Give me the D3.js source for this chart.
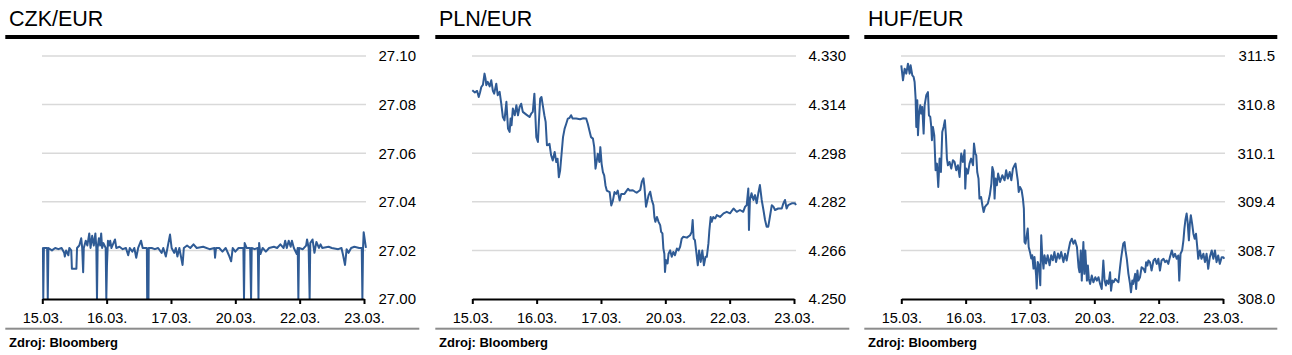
<!DOCTYPE html>
<html><head><meta charset="utf-8">
<script src="https://cdn.jsdelivr.net/npm/d3@7"></script>
<style>
html,body{margin:0;padding:0;background:#fff;}
svg{display:block;font-family:"Liberation Sans",Arial,sans-serif;}
</style></head>
<body>
<svg id="c" width="1292" height="355"></svg>
<script>
// ---- data: x = position along the time axis in % (0 = 15.03., 100 = 23.03.), y = rate ----
const xTickLabels = ["15.03.","16.03.","17.03.","20.03.","22.03.","23.03."];
const xTickPos = [0,20,40,60,80,100];

const czkTicks = [27.00,27.02,27.04,27.06,27.08,27.10];
const plnTicks = [4.250,4.266,4.282,4.298,4.314,4.330];
const hufTicks = [308.0,308.7,309.4,310.1,310.8,311.5];

const czkData = [[0,27.021],[0.2,27.021],[0.3,27.000],[0.5,27.021],[1.5,27.021],[1.7,27.000],[1.9,27.021],[3,27.020],[4,27.021],[5,27.0205],[6,27.021],[6.8,27.019],[7.0,27.0175],[7.4,27.020],[8.1,27.018],[8.4,27.021],[9.0,27.020],[9.2,27.0125],[10.6,27.0125],[10.8,27.021],[11.5,27.022],[12.1,27.025],[12.4,27.021],[12.7,27.011],[12.9,27.021],[13.5,27.024],[14.0,27.022],[14.6,27.027],[15.0,27.021],[15.5,27.026],[16.0,27.022],[16.5,27.027],[16.8,27.021],[17.0,27.000],[17.2,27.021],[17.6,27.025],[18.0,27.022],[18.3,27.027],[18.6,27.021],[19.0,27.023],[19.7,27.021],[19.9,27.000],[20.1,27.014],[20.4,27.024],[20.8,27.022],[21.1,27.024],[21.5,27.021],[22.6,27.0245],[23,27.021],[24,27.0215],[25,27.0205],[26,27.021],[26.7,27.018],[27.2,27.021],[28,27.0195],[28.6,27.021],[29.2,27.017],[29.8,27.021],[30.7,27.024],[31.2,27.021],[32.5,27.021],[32.6,27.000],[33.0,27.000],[33.1,27.021],[34,27.021],[35,27.0205],[36,27.021],[37.1,27.019],[37.6,27.021],[38.4,27.0175],[38.9,27.021],[39.7,27.0265],[40.2,27.021],[41,27.019],[41.5,27.021],[42.0,27.0175],[42.6,27.021],[43.6,27.014],[44.0,27.021],[45,27.022],[46,27.021],[47,27.0225],[48,27.021],[50,27.0215],[52,27.0205],[53.5,27.021],[53.7,27.017],[54,27.021],[55,27.021],[56,27.0195],[57,27.021],[58.0,27.018],[58.7,27.0155],[59.2,27.021],[60,27.0195],[61,27.021],[62.5,27.021],[62.7,27.000],[62.9,27.023],[63.5,27.021],[64.6,27.021],[64.9,27.000],[65.1,27.021],[66,27.0205],[67.0,27.021],[67.2,27.000],[67.4,27.023],[67.8,27.0185],[68.5,27.021],[69.5,27.0195],[70.5,27.021],[72,27.0215],[73,27.021],[74,27.0225],[75,27.021],[75.5,27.024],[76,27.021],[76.6,27.024],[77.2,27.0215],[77.6,27.024],[78.2,27.021],[79.1,27.0185],[79.4,27.021],[79.6,27.000],[79.8,27.021],[81,27.0205],[82,27.022],[82.3,27.0245],[82.8,27.021],[83.1,27.000],[83.3,27.023],[84,27.0245],[84.6,27.019],[85.2,27.0235],[86,27.021],[86.5,27.0225],[87,27.021],[89,27.0215],[90,27.021],[92,27.0205],[93,27.021],[93.5,27.018],[94.1,27.014],[94.6,27.0205],[95.2,27.019],[96,27.021],[97,27.0215],[98.5,27.021],[99.3,27.021],[99.5,27.000],[99.7,27.021],[99.9,27.0275],[100.6,27.021]];

const plnData = [[0,4.3187],[0.8,4.3180],[1.5,4.3185],[2.0,4.3165],[2.4,4.3180],[2.8,4.3198],[3.3,4.3205],[3.8,4.3242],[4.1,4.3226],[4.35,4.3204],[4.8,4.3215],[5.4,4.3200],[5.9,4.3220],[6.4,4.3185],[6.8,4.3176],[7.45,4.3209],[7.9,4.3171],[8.5,4.3182],[9.0,4.3143],[9.5,4.3099],[10.0,4.3088],[10.6,4.3149],[11.1,4.3061],[11.6,4.3050],[11.9,4.3094],[12.2,4.3072],[12.6,4.3127],[13.2,4.3105],[13.7,4.3138],[14.2,4.3105],[14.7,4.3132],[15.2,4.3143],[15.7,4.3116],[16.8,4.3107],[17.8,4.3099],[18.3,4.3110],[18.8,4.3116],[19.3,4.3176],[19.6,4.3105],[19.9,4.3033],[20.4,4.3017],[20.7,4.3083],[21.1,4.3160],[21.5,4.3165],[21.9,4.3138],[22.4,4.3105],[22.8,4.3083],[23.2,4.3006],[24.0,4.3011],[24.5,4.2973],[25.0,4.2956],[25.6,4.2984],[26.1,4.2951],[26.5,4.2962],[26.9,4.2901],[27.3,4.2923],[27.8,4.2984],[28.2,4.3033],[28.7,4.3061],[29.2,4.3077],[29.7,4.3094],[30.2,4.3096],[30.7,4.3105],[31.2,4.3094],[32.3,4.3094],[33.5,4.3092],[34.5,4.3095],[35.4,4.3094],[35.9,4.3077],[36.4,4.3055],[36.9,4.3033],[37.5,4.3028],[37.9,4.3000],[38.3,4.2929],[38.7,4.2956],[39.0,4.2978],[39.5,4.2951],[39.8,4.3000],[40.2,4.2945],[40.6,4.2918],[41.0,4.2907],[41.4,4.2874],[41.8,4.2857],[42.7,4.2852],[43.2,4.2808],[43.7,4.2824],[44.2,4.2852],[44.7,4.2846],[45.2,4.2857],[45.8,4.2824],[46.3,4.2846],[47.3,4.2846],[48.4,4.2863],[48.9,4.2857],[49.9,4.2858],[50.6,4.2853],[51.1,4.2850],[52.2,4.2859],[52.7,4.2886],[53.2,4.2897],[53.5,4.2870],[54.0,4.2804],[54.8,4.2842],[55.3,4.2853],[55.8,4.2826],[56.3,4.2809],[56.6,4.2770],[56.9,4.2754],[57.4,4.2770],[57.9,4.2754],[58.4,4.2743],[58.7,4.2721],[59.1,4.2716],[59.4,4.2666],[59.7,4.2649],[59.9,4.2589],[60.2,4.2628],[60.7,4.2617],[61.0,4.2649],[61.5,4.2660],[62.0,4.2639],[62.5,4.2655],[63.0,4.2644],[63.6,4.2666],[64.1,4.2660],[64.6,4.2672],[65.1,4.2699],[65.6,4.2705],[66.7,4.2702],[67.7,4.2710],[68.2,4.2721],[68.5,4.2760],[68.8,4.2699],[69.2,4.2694],[69.8,4.2639],[70.1,4.2611],[70.5,4.2660],[71.0,4.2622],[71.5,4.2660],[72.0,4.2611],[72.5,4.2639],[72.9,4.2639],[73.4,4.2683],[73.7,4.2727],[74.1,4.2770],[74.4,4.2754],[74.9,4.2770],[75.5,4.2765],[76.0,4.2776],[77.0,4.2770],[78.1,4.2782],[79.1,4.2787],[80.1,4.2782],[81.2,4.2798],[82.2,4.2787],[83.2,4.2793],[84.2,4.2787],[84.8,4.2804],[85.3,4.2809],[85.8,4.2864],[86.0,4.2727],[86.3,4.2826],[86.8,4.2848],[87.4,4.2826],[87.9,4.2842],[88.4,4.2815],[88.9,4.2848],[89.4,4.2875],[89.96,4.2826],[90.5,4.2793],[91.0,4.2760],[91.5,4.2738],[92.0,4.2738],[92.5,4.2770],[93.1,4.2809],[93.6,4.2804],[94.1,4.2793],[95.1,4.2798],[96.2,4.2798],[96.7,4.2815],[97.2,4.2826],[97.7,4.2798],[98.2,4.2809],[99.3,4.2815],[100.3,4.2815],[100.6,4.2809]];

const hufData = [[0,311.366],[0.52,311.15],[1.04,311.318],[1.55,311.246],[2.07,311.39],[2.59,311.246],[2.9,311.366],[3.42,311.22],[3.83,311.198],[4.14,311.126],[4.45,310.886],[4.66,310.478],[4.97,310.862],[5.18,310.358],[5.49,310.646],[5.9,310.79],[6.21,310.67],[6.52,310.766],[6.94,310.382],[7.25,310.79],[7.76,310.934],[8.28,310.98],[8.59,310.646],[9.0,310.622],[9.32,310.478],[9.52,310.286],[9.83,310.478],[10.25,310.358],[10.66,309.854],[11.08,309.95],[11.49,309.614],[11.9,310.022],[12.32,309.83],[12.73,310.406],[13.15,310.478],[13.56,310.574],[13.87,310.358],[14.18,310.022],[14.49,309.926],[15.0,309.974],[15.53,309.878],[16.05,309.998],[16.56,309.974],[17.08,309.854],[17.6,309.926],[18.12,309.758],[18.63,310.094],[19.15,309.974],[19.67,310.142],[19.88,309.59],[20.19,309.878],[20.7,309.806],[21.2,309.95],[21.7,310.022],[22.3,309.926],[22.6,310.238],[23.0,310.094],[23.3,310.07],[23.6,309.83],[24.0,309.734],[24.3,309.446],[24.8,309.47],[25.2,309.35],[25.6,309.254],[26.0,309.326],[26.4,309.35],[26.9,309.374],[27.5,309.494],[28.0,309.662],[28.3,309.902],[28.7,309.83],[29.0,309.446],[29.3,309.734],[29.7,309.638],[30.1,309.806],[30.7,309.686],[31.4,309.782],[32.1,309.71],[32.6,309.854],[33.1,309.734],[33.7,309.83],[34.2,309.71],[34.7,309.878],[35.2,309.926],[35.5,309.95],[35.9,309.806],[36.2,309.71],[36.5,309.542],[36.9,309.614],[37.4,309.566],[37.8,309.446],[38.1,309.302],[38.3,308.822],[38.6,308.798],[39.0,308.918],[39.3,309.014],[39.6,308.75],[40.1,308.654],[40.4,308.582],[40.7,308.63],[41.1,308.438],[41.4,308.606],[41.9,308.342],[42.1,308.15],[42.4,308.534],[42.8,308.486],[43.2,308.198],[43.5,308.918],[43.8,308.63],[44.2,308.438],[44.5,308.63],[45.0,308.51],[45.5,308.63],[46.1,308.486],[46.6,308.63],[47.1,308.558],[47.6,308.678],[48.1,308.534],[48.7,308.654],[49.2,308.582],[49.7,308.678],[50.4,308.531],[50.9,308.651],[51.4,308.555],[51.97,308.70],[52.5,308.82],[53.0,308.869],[53.5,308.796],[54.0,308.845],[54.6,308.748],[55.1,308.458],[55.4,308.386],[55.8,308.70],[56.1,308.265],[56.6,308.82],[56.9,308.362],[57.2,308.70],[57.7,308.265],[58.0,308.482],[58.3,308.289],[58.7,308.217],[59.2,308.337],[59.7,308.241],[60.3,308.313],[60.8,308.265],[61.3,308.313],[61.8,308.217],[62.3,308.144],[62.8,308.555],[63.2,308.265],[63.6,308.193],[63.9,308.265],[64.4,308.217],[64.9,308.386],[65.2,308.12],[65.6,308.265],[66.0,308.241],[66.5,308.289],[67.0,308.265],[67.5,308.241],[68.0,308.458],[68.3,308.579],[68.6,308.676],[69.0,308.796],[69.4,308.82],[69.7,308.70],[70.1,308.579],[70.6,308.362],[71.1,308.217],[71.4,308.096],[71.8,308.265],[72.1,308.217],[72.7,308.362],[73.0,308.144],[73.4,308.41],[73.7,308.265],[74.2,308.313],[74.7,308.458],[75.3,308.434],[75.8,308.386],[76.1,308.531],[76.5,308.482],[76.8,308.555],[77.3,308.531],[77.8,308.41],[78.4,308.555],[78.9,308.579],[79.4,308.506],[79.9,308.579],[80.4,308.41],[80.9,308.555],[81.5,308.579],[82.0,308.531],[82.5,308.555],[83.0,308.506],[83.5,308.603],[84.1,308.70],[84.6,308.603],[85.1,308.651],[85.6,308.579],[86.1,308.627],[86.4,308.265],[86.8,308.651],[87.3,308.70],[87.7,308.845],[88.0,309.014],[88.3,309.134],[88.7,309.231],[89.0,309.11],[89.4,308.845],[89.7,309.086],[90.0,309.207],[90.4,309.086],[90.8,308.941],[91.2,308.869],[91.6,308.941],[92.0,308.748],[92.3,308.579],[92.8,308.70],[93.3,308.579],[93.9,308.651],[94.4,308.531],[94.9,308.651],[95.4,308.434],[95.9,308.603],[96.5,308.70],[97.0,308.579],[97.5,308.70],[98.0,308.531],[98.5,308.627],[99.0,308.506],[99.6,308.603],[100.1,308.603],[100.4,308.579]];

const panels = [
  {title:"CZK/EUR", ox:0,   ruleW:414, data:czkData, ticks:czkTicks, fmt:d3.format(".2f")},
  {title:"PLN/EUR", ox:430, ruleW:414, data:plnData, ticks:plnTicks, fmt:d3.format(".3f")},
  {title:"HUF/EUR", ox:859, ruleW:413, data:hufData, ticks:hufTicks, fmt:d3.format(".1f")}
];

const svg = d3.select("#c");
svg.append("rect").attr("width",1292).attr("height",355).attr("fill","#fff");
const LINE = "#2f5b95";

panels.forEach(p => {
  const g = svg.append("g").attr("transform",`translate(${p.ox},0)`);
  const x = d3.scaleLinear().domain([0,100]).range([42.3,364]);
  const y = d3.scaleLinear().domain([p.ticks[0], p.ticks[p.ticks.length-1]]).range([299,56]);

  // title
  g.append("text").attr("x",9).attr("y",26).attr("font-size","21.5px").attr("fill","#000").text(p.title);
  // thick black rule
  g.append("rect").attr("x",5.3).attr("y",35).attr("width",p.ruleW).attr("height",4).attr("fill","#000");

  // gridlines
  g.append("g").selectAll("line").data(p.ticks.slice(1)).join("line")
    .attr("x1",42).attr("x2",366).attr("y1",d=>y(d)).attr("y2",d=>y(d))
    .attr("stroke","#d9d9d9").attr("stroke-width",1.5);

  // y labels
  const ya = g.append("g").attr("transform","translate(416,0)")
    .call(d3.axisRight(y).tickValues(p.ticks).tickFormat(p.fmt).tickSize(0).tickPadding(0));
  ya.select(".domain").remove();
  ya.selectAll("text").attr("text-anchor","end").attr("font-size","15px")
    .attr("font-family","'Liberation Sans',Arial,sans-serif").attr("fill","#000");

  // line
  g.append("path").datum(p.data)
    .attr("d", d3.line().x(d=>x(d[0])).y(d=>y(d[1])))
    .attr("fill","none").attr("stroke",LINE).attr("stroke-width",2).attr("stroke-linejoin","round");

  // x axis
  const xa = g.append("g").attr("transform","translate(0,299)")
    .call(d3.axisBottom(x).tickValues(xTickPos).tickFormat((d,i)=>xTickLabels[i]).tickSize(5).tickSizeOuter(0).tickPadding(9));
  xa.select(".domain").attr("stroke","#000").attr("stroke-width",2);
  xa.selectAll(".tick line").attr("stroke","#000").attr("stroke-width",2);
  xa.selectAll("text").attr("font-size","14.5px")
    .attr("font-family","'Liberation Sans',Arial,sans-serif").attr("fill","#000");

  // bottom gray rule + source
  g.append("rect").attr("x",5.3).attr("y",327.7).attr("width",p.ruleW).attr("height",2).attr("fill","#8c8c8c");
  g.append("text").attr("x",9).attr("y",347).attr("font-size","13px").attr("font-weight","bold")
    .attr("fill","#000").text("Zdroj: Bloomberg");
});
</script>
</body></html>
